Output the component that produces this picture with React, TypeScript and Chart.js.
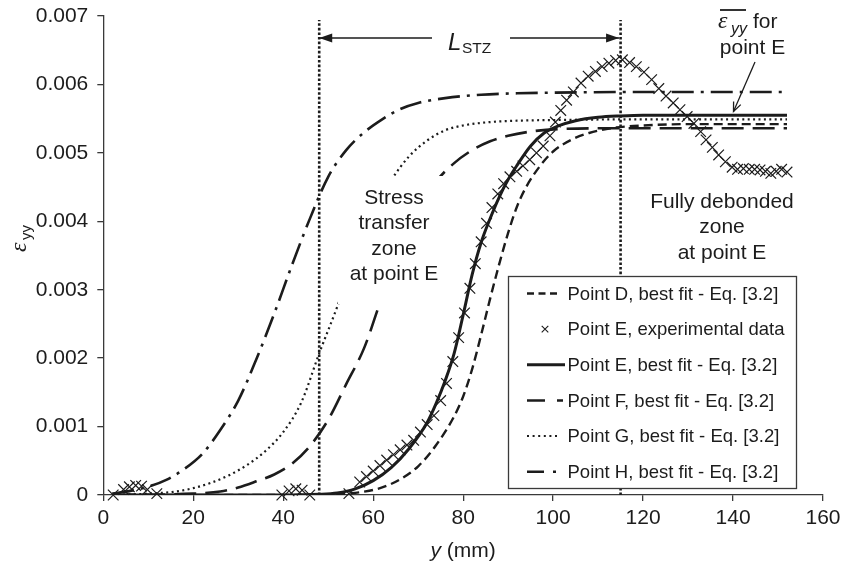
import React, { useEffect, useRef } from "react";
import { Chart, registerables } from "chart.js";

Chart.register(...registerables);

// ---- data (x in mm, strain values in units of 1e-3) ----
const MILLI = 1e-3;

const pointD_x = [2, 50, 54, 58, 62, 66, 70, 74, 78, 80, 82, 84, 86, 88, 90, 92, 94, 97, 100, 104, 108, 114, 120, 130, 152];
const pointD_y = [0, 0, 0.02, 0.05, 0.11, 0.23, 0.42, 0.73, 1.15, 1.44, 1.84, 2.34, 2.87, 3.37, 3.83, 4.22, 4.5, 4.8, 5.02, 5.19, 5.29, 5.37, 5.4, 5.42, 5.42];

const pointEfit_x = [2, 40, 48, 52, 56, 60, 64, 68, 72, 74, 76, 78, 80, 82, 84, 86, 88, 90, 92, 95, 98, 101, 105, 110, 115, 120, 152];
const pointEfit_y = [0, 0, 0.01, 0.03, 0.09, 0.21, 0.4, 0.68, 1.06, 1.34, 1.67, 2.07, 2.63, 3.22, 3.69, 4.04, 4.35, 4.61, 4.82, 5.1, 5.29, 5.39, 5.47, 5.52, 5.54, 5.55, 5.55];

const pointF_x = [2, 20, 26, 30, 34, 38, 42, 46, 50, 54, 58, 62, 66, 70, 74, 78, 82, 86, 90, 96, 102, 115, 152];
const pointF_y = [0, 0.02, 0.05, 0.11, 0.2, 0.3, 0.46, 0.72, 1.1, 1.62, 2.15, 2.9, 3.58, 4.15, 4.58, 4.85, 5.04, 5.17, 5.25, 5.32, 5.35, 5.36, 5.36];

const pointG_x = [2, 10, 16, 20, 24, 28, 32, 36, 40, 44, 48, 52, 56, 60, 64, 68, 72, 76, 80, 86, 92, 100, 120, 152];
const pointG_y = [0, 0.02, 0.05, 0.1, 0.18, 0.29, 0.44, 0.64, 0.92, 1.35, 2.07, 2.75, 3.5, 4.13, 4.6, 4.95, 5.18, 5.33, 5.4, 5.45, 5.47, 5.48, 5.49, 5.49];

const pointH_x = [2, 6, 10, 14, 18, 22, 26, 30, 34, 38, 42, 46, 50, 54, 58, 62, 66, 70, 76, 84, 92, 100, 120, 152];
const pointH_y = [0.02, 0.06, 0.12, 0.22, 0.38, 0.6, 0.95, 1.38, 1.98, 2.65, 3.37, 4.05, 4.65, 5.04, 5.3, 5.49, 5.64, 5.73, 5.8, 5.85, 5.87, 5.88, 5.89, 5.89];

const expE_x = [2.2, 4.5, 5.8, 7.2, 8.5, 9.8, 11.9, 39.7, 41.3, 42.8, 44.2, 45.9, 54.6,
  57.0, 58.5, 60.0, 61.5, 63.0, 64.5, 66.0, 67.5, 69.0, 70.5, 72.0, 73.5, 75.0, 76.3, 77.7, 79.0, 80.3, 81.5, 82.7, 84.0,
  85.2, 86.4, 87.7, 89.0, 90.4, 91.9, 93.3, 94.8, 96.3, 97.8, 99.3, 100.5, 101.7, 103.0, 104.5, 106.2, 107.8, 109.4, 110.9, 112.4,
  113.9, 115.4, 117.0, 118.5, 120.2, 121.9, 123.5, 125.1, 126.7, 128.2, 129.8, 131.3, 132.8, 134.0, 135.4, 136.8, 138.3, 139.8, 141.0, 142.3,
  143.6, 144.8, 146.0, 147.2, 148.4, 149.6, 150.8, 152.0];
const expE_y = [0.0, 0.08, 0.12, 0.14, 0.13, 0.08, 0.02, 0.0, 0.06, 0.09, 0.07, 0.0, 0.02,
  0.19, 0.27, 0.35, 0.43, 0.51, 0.59, 0.66, 0.73, 0.8, 0.92, 1.03, 1.16, 1.38, 1.63, 1.95, 2.3, 2.66, 3.02, 3.38, 3.7,
  3.97, 4.2, 4.4, 4.55, 4.65, 4.73, 4.81, 4.9, 5.0, 5.1, 5.25, 5.45, 5.62, 5.77, 5.89, 6.02, 6.12, 6.19, 6.26, 6.31,
  6.35, 6.36, 6.32, 6.26, 6.18, 6.07, 5.94, 5.83, 5.73, 5.63, 5.53, 5.43, 5.31, 5.19, 5.08, 4.97, 4.87, 4.79, 4.76, 4.77,
  4.76, 4.76, 4.75, 4.73, 4.7, 4.73, 4.76, 4.72];

// stress-transfer zone boundaries (mm) and their top (1e-3)
const zoneBounds = [48, 115];
const zoneTop = 6.94;

const legendLabels = [
  "Point D, best fit - Eq. [3.2]",
  "Point E, experimental data",
  "Point E, best fit - Eq. [3.2]",
  "Point F, best fit - Eq. [3.2]",
  "Point G, best fit - Eq. [3.2]",
  "Point H, best fit - Eq. [3.2]",
];

const X_MIN = 0, X_MAX = 160, X_STEP = 20;
const Y_MIN = 0, Y_MAX = 0.007, Y_STEP = 0.001;

// ---- styles ----
const FONT = '"Liberation Sans", Arial, Helvetica, sans-serif';
const SERIF = '"Liberation Serif", "DejaVu Serif", serif';
const INK = "#1c1c1c";
const AXIS = "#3a3a3a";

const toPts = (xs: number[], ys: number[]) => xs.map((x, i) => ({ x, y: ys[i] * MILLI }));

const fitLine = (label: string, xs: number[], ys: number[], dash: number[], width: number) => ({
  label,
  data: toPts(xs, ys),
  borderColor: INK,
  backgroundColor: INK,
  borderWidth: width,
  borderDash: dash,
  pointRadius: 0,
  cubicInterpolationMode: "monotone" as const,
  fill: false,
});

function drawText(ctx: CanvasRenderingContext2D, s: string, x: number, y: number, font: string, align: CanvasTextAlign = "center", baseline: CanvasTextBaseline = "middle") {
  ctx.font = font;
  ctx.textAlign = align;
  ctx.textBaseline = baseline;
  ctx.fillText(s, x, y);
}

const overlay = {
  id: "overlay",
  afterDatasetsDraw(chart: any) {
    const ctx: CanvasRenderingContext2D = chart.ctx;
    const xs = chart.scales.x;
    ctx.save();
    ctx.fillStyle = INK;
    ctx.strokeStyle = INK;
    ctx.setLineDash([]);

    // Stress transfer zone label (white background hides curves)
    ctx.fillStyle = "#fff";
    ctx.fillRect(338, 176, 108, 128);
    ctx.fillStyle = INK;
    const f21 = `21px ${FONT}`;
    ["Stress", "transfer", "zone", "at point E"].forEach((s, i) => drawText(ctx, s, 394, 198 + i * 25.5, f21));
    ["Fully debonded", "zone", "at point E"].forEach((s, i) => drawText(ctx, s, 722, 202 + i * 25.5, f21));

    // L_STZ arrow
    const xa = xs.getPixelForValue(zoneBounds[0]);
    const xb = xs.getPixelForValue(zoneBounds[1]) - 1.5;
    const ya = 38;
    ctx.lineWidth = 1.3;
    ctx.beginPath();
    ctx.moveTo(xa, ya); ctx.lineTo(432, ya);
    ctx.moveTo(510, ya); ctx.lineTo(xb, ya);
    ctx.stroke();
    ctx.beginPath();
    ctx.moveTo(xa, ya); ctx.lineTo(xa + 13, ya - 4.5); ctx.lineTo(xa + 13, ya + 4.5); ctx.closePath();
    ctx.moveTo(xb, ya); ctx.lineTo(xb - 13, ya - 4.5); ctx.lineTo(xb - 13, ya + 4.5); ctx.closePath();
    ctx.fill();
    drawText(ctx, "L", 448, 50, `italic 24px ${FONT}`, "left", "alphabetic");
    drawText(ctx, "STZ", 462, 53, `15.5px ${FONT}`, "left", "alphabetic");

    // epsilon-bar annotation
    drawText(ctx, "\u03b5", 718, 28, `italic 24px ${SERIF}`, "left", "alphabetic");
    drawText(ctx, "yy", 731, 34, `italic 16px ${FONT}`, "left", "alphabetic");
    drawText(ctx, "for", 753, 28, f21, "left", "alphabetic");
    ctx.lineWidth = 1.8;
    ctx.beginPath(); ctx.moveTo(720, 10); ctx.lineTo(746, 10); ctx.stroke();
    drawText(ctx, "point E", 752.5, 48, f21);
    const ax0 = 755, ay0 = 62, ax1 = 733.5, ay1 = 111.5;
    ctx.lineWidth = 1.3;
    ctx.beginPath(); ctx.moveTo(ax0, ay0); ctx.lineTo(ax1, ay1); ctx.stroke();
    const ang = Math.atan2(ay1 - ay0, ax1 - ax0);
    ctx.beginPath();
    ctx.moveTo(ax1 - 10 * Math.cos(ang - 0.4), ay1 - 10 * Math.sin(ang - 0.4));
    ctx.lineTo(ax1, ay1);
    ctx.lineTo(ax1 - 10 * Math.cos(ang + 0.4), ay1 - 10 * Math.sin(ang + 0.4));
    ctx.stroke();

    // Legend box
    const L = { x: 508, y: 276, w: 288, h: 212 };
    ctx.fillStyle = "#fff";
    ctx.fillRect(L.x, L.y, L.w, L.h);
    ctx.strokeStyle = AXIS;
    ctx.lineWidth = 1.3;
    ctx.strokeRect(L.x + 0.5, L.y + 0.5, L.w, L.h);
    ctx.fillStyle = INK;
    ctx.strokeStyle = INK;
    const s0 = 527;
    const samples = [
      { dash: [7, 4.5], w: 2.4, end: 559 },
      null,
      { dash: [], w: 3, end: 565 },
      { dash: [18, 12], w: 2.6, end: 563 },
      { dash: [2, 3.6], w: 2, end: 558 },
      { dash: [17, 9, 3, 100], w: 2.6, end: 558 },
    ];
    legendLabels.forEach((lab, i) => {
      const y = 293.5 + i * 35.65;
      const sm = samples[i];
      if (sm) {
        ctx.setLineDash(sm.dash);
        ctx.lineWidth = sm.w;
        ctx.beginPath(); ctx.moveTo(s0, y); ctx.lineTo(sm.end, y); ctx.stroke();
        ctx.setLineDash([]);
      } else {
        ctx.lineWidth = 1.1;
        const c = 545, r = 3.3;
        ctx.beginPath();
        ctx.moveTo(c - r, y - r); ctx.lineTo(c + r, y + r);
        ctx.moveTo(c - r, y + r); ctx.lineTo(c + r, y - r);
        ctx.stroke();
      }
      drawText(ctx, lab, 567.5, y + 1, `18.5px ${FONT}`, "left", "middle");
    });

    // axis titles
    ctx.fillStyle = INK;
    ctx.font = `italic 21px ${FONT}`;
    const wy = ctx.measureText("y").width;
    ctx.font = `21px ${FONT}`;
    const wmm = ctx.measureText(" (mm)").width;
    const cx = (chart.chartArea.left + chart.chartArea.right) / 2;
    const startX = cx - (wy + wmm) / 2;
    drawText(ctx, "y", startX, 557, `italic 21px ${FONT}`, "left", "alphabetic");
    drawText(ctx, " (mm)", startX + wy, 557, `21px ${FONT}`, "left", "alphabetic");

    ctx.save();
    ctx.translate(26, 252);
    ctx.rotate(-Math.PI / 2);
    drawText(ctx, "\u03b5", 0, 0, `italic 24px ${SERIF}`, "left", "alphabetic");
    drawText(ctx, "yy", 12, 5, `15px ${FONT}`, "left", "alphabetic");
    ctx.restore();

    ctx.restore();
  },
};

export default function App() {
  const ref = useRef<HTMLCanvasElement>(null);

  useEffect(() => {
    const canvas = ref.current;
    if (!canvas) return;
    const boundaryDatasets = zoneBounds.map((b) => ({
      label: "",
      data: [{ x: b, y: 0 }, { x: b, y: zoneTop * MILLI }],
      borderColor: INK,
      borderWidth: 2.6,
      borderDash: [2.6, 2],
      pointRadius: 0,
      fill: false,
    }));
    const chart = new Chart(canvas, {
      type: "line",
      data: {
        datasets: [
          {
            label: legendLabels[1],
            data: toPts(expE_x, expE_y),
            showLine: false,
            pointStyle: "crossRot",
            pointRadius: 7.5,
            pointBorderWidth: 1.2,
            borderColor: INK,
            pointBorderColor: INK,
            backgroundColor: INK,
            clip: false,
          } as any,
          fitLine(legendLabels[2], pointEfit_x, pointEfit_y, [], 3),
          fitLine(legendLabels[0], pointD_x, pointD_y, [9, 5], 2.4),
          fitLine(legendLabels[3], pointF_x, pointF_y, [22, 9], 2.6),
          fitLine(legendLabels[4], pointG_x, pointG_y, [2, 3.4], 2.2),
          fitLine(legendLabels[5], pointH_x, pointH_y, [22, 7, 3, 7], 2.6),
          ...boundaryDatasets,
        ],
      },
      options: {
        responsive: false,
        animation: false,
        devicePixelRatio: 1,
        layout: { padding: { left: 0, right: 19, top: 16, bottom: 0 } },
        plugins: {
          legend: { display: false },
          tooltip: { enabled: false },
          title: { display: false },
        },
        scales: {
          x: {
            type: "linear",
            min: X_MIN,
            max: X_MAX,
            ticks: { stepSize: X_STEP, color: INK, font: { family: FONT, size: 21, lineHeight: 1.5 }, padding: 1, maxRotation: 0, autoSkip: false },
            grid: { display: true, drawOnChartArea: false, drawTicks: true, tickLength: 6, color: AXIS, lineWidth: 1.3 },
            border: { display: true, color: AXIS, width: 1.3 },
            afterFit: (s: any) => { s.height = 69; },
          },
          y: {
            type: "linear",
            min: Y_MIN,
            max: Y_MAX,
            ticks: {
              stepSize: Y_STEP,
              color: INK,
              font: { family: FONT, size: 21, lineHeight: 0.6 },
              padding: 9,
              callback: (v: any) => (Math.abs(Number(v)) < 1e-9 ? "0" : Number(v).toFixed(3)),
            },
            grid: { display: true, drawOnChartArea: false, drawTicks: true, tickLength: 6, color: AXIS, lineWidth: 1.3 },
            border: { display: true, color: AXIS, width: 1.3 },
            afterFit: (s: any) => { s.width = 103.3; },
          },
        },
      } as any,
      plugins: [overlay],
    });
    return () => chart.destroy();
  }, []);

  return (
    <div style={{ position: "absolute", left: 0, top: 0, width: 842, height: 564, background: "#fff" }}>
      <canvas ref={ref} width={842} height={564} style={{ display: "block", width: 842, height: 564 }} />
    </div>
  );
}
